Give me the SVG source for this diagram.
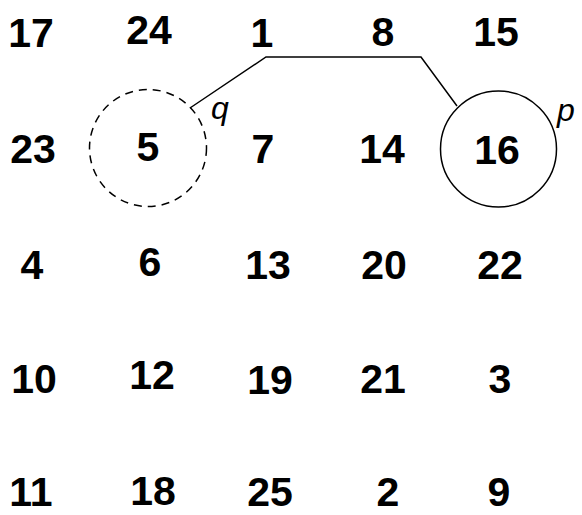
<svg xmlns="http://www.w3.org/2000/svg" width="582" height="515" viewBox="0 0 582 515">
<style>
.n{font-family:"Liberation Sans",Arial,sans-serif;font-weight:bold;font-size:41px;text-anchor:middle;fill:#000}
.l{font-family:"Liberation Sans",Arial,sans-serif;font-style:italic;font-size:32px;fill:#000}
.c{fill:none;stroke:#000;stroke-width:1.5}
</style>
<rect width="582" height="515" fill="#fff"/>
<g id="connectors">
<polyline class="c" points="190,108 266,57 421,57 457,106"/>
</g>
<g id="node-q">
<circle class="c" cx="148" cy="148" r="58.5" stroke-dasharray="8,6"/>
<text class="n" x="148" y="161">5</text>
<text class="l" x="211" y="119">q</text>
</g>
<g id="node-p">
<circle class="c" cx="498.5" cy="149" r="58"/>
<text class="n" x="497" y="164">16</text>
<text class="l" x="557" y="121">p</text>
</g>
<g id="grid">
<text class="n" x="31" y="47">17</text>
<text class="n" x="149" y="44">24</text>
<text class="n" x="262" y="47">1</text>
<text class="n" x="383" y="46">8</text>
<text class="n" x="496" y="46">15</text>
<text class="n" x="33" y="163">23</text>
<text class="n" x="263" y="163">7</text>
<text class="n" x="382" y="163">14</text>
<text class="n" x="32" y="279">4</text>
<text class="n" x="150" y="276">6</text>
<text class="n" x="268" y="279">13</text>
<text class="n" x="384" y="279">20</text>
<text class="n" x="500" y="279">22</text>
<text class="n" x="34" y="393">10</text>
<text class="n" x="152" y="389">12</text>
<text class="n" x="270" y="394">19</text>
<text class="n" x="383" y="393">21</text>
<text class="n" x="500" y="393">3</text>
<text class="n" x="31" y="506">11</text>
<text class="n" x="153" y="505">18</text>
<text class="n" x="270" y="506">25</text>
<text class="n" x="388" y="506">2</text>
<text class="n" x="499" y="506">9</text>
</g>
</svg>
